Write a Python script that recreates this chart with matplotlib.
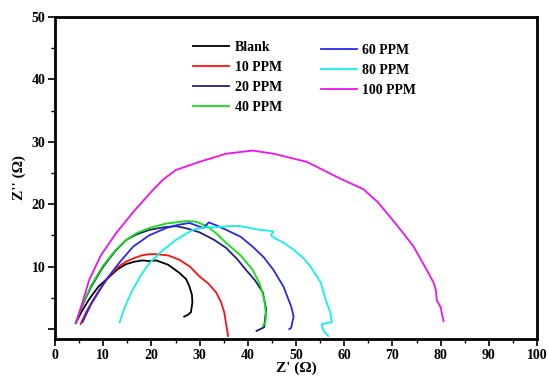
import numpy as np
import matplotlib
matplotlib.use("Agg")
import matplotlib.pyplot as plt
from matplotlib.ticker import MultipleLocator

plt.rcParams['font.family'] = ['Liberation Serif', 'DejaVu Serif']
plt.rcParams['font.weight'] = 'bold'

# Nyquist curves: Z' and Z'' in ohm
blank_x = [4.4, 5.5, 7.1, 9.0, 11.3, 13.0, 14.7, 16.5, 18.1, 19.5, 21.0, 23.5, 25.8, 27.2, 27.9, 28.4, 28.5, 28.2, 27.6, 26.8]
blank_y = [1.1, 2.8, 4.8, 6.8, 8.4, 9.6, 10.4, 10.8, 11.0, 10.9, 11.0, 10.3, 9.0, 8.0, 6.8, 5.5, 4.3, 2.7, 2.3, 2.0]

ppm10_x = [5.3, 6.5, 8.0, 9.2, 11.5, 13.0, 14.7, 16.5, 18.0, 19.5, 21.0, 23.5, 25.8, 28.0, 30.0, 31.8, 33.4, 34.4, 35.1, 35.5, 35.9]
ppm10_y = [0.8, 2.8, 4.8, 6.3, 8.7, 9.9, 10.8, 11.4, 11.8, 12.0, 12.0, 11.8, 11.1, 10.0, 8.4, 7.3, 5.9, 4.4, 2.7, 0.8, -1.1]

ppm20_x = [4.3, 5.5, 7.5, 10.0, 12.5, 14.8, 17.0, 19.6, 22.5, 25.1, 27.5, 30.0, 33.0, 35.5, 37.8, 39.6, 41.5, 43.1, 43.8, 43.4, 42.6, 41.8]
ppm20_y = [1.0, 3.5, 6.8, 10.0, 12.5, 14.3, 15.2, 15.9, 16.3, 16.5, 16.1, 15.5, 14.3, 13.0, 11.2, 9.5, 7.8, 5.9, 3.2, 0.3, 0.0, -0.3]

ppm40_x = [4.2, 5.5, 7.5, 10.0, 12.5, 14.8, 17.0, 19.6, 23.0, 27.2, 29.3, 31.5, 33.5, 35.5, 38.5, 41.0, 42.5, 43.4, 43.8, 43.6, 43.1]
ppm40_y = [0.9, 3.6, 7.0, 10.2, 12.6, 14.3, 15.4, 16.2, 16.9, 17.3, 17.2, 16.5, 15.3, 13.8, 11.8, 9.5, 7.2, 4.8, 2.1, 1.0, 0.5]

ppm60_x = [5.7, 7.5, 10.6, 13.5, 16.2, 19.5, 23.1, 25.5, 27.9, 30.0, 30.8, 31.9, 33.5, 35.5, 38.5, 41.0, 43.3, 45.3, 47.4, 49.0, 49.5, 49.2, 49.0, 48.6]
ppm60_y = [1.1, 4.0, 7.9, 10.8, 13.2, 15.0, 16.2, 16.7, 17.0, 16.4, 16.2, 17.1, 16.6, 15.9, 14.8, 13.2, 11.5, 9.5, 6.8, 3.6, 2.0, 1.0, 0.2, 0.0]

ppm80_x = [13.4, 14.5, 16.1, 17.8, 19.6, 22.3, 25.1, 28.6, 31.0, 33.4, 36.0, 38.3, 40.5, 42.4, 44.0, 45.3, 44.8, 45.3, 47.5, 49.5, 51.5, 53.0, 55.1, 56.1, 57.1, 57.4, 55.3, 55.7, 56.7]
ppm80_y = [1.1, 3.6, 6.3, 8.6, 10.6, 12.6, 14.3, 15.9, 16.3, 16.3, 16.5, 16.5, 16.2, 15.9, 15.8, 15.6, 15.0, 14.7, 13.8, 12.7, 11.4, 10.0, 7.5, 4.8, 2.7, 1.1, 0.8, -0.3, -1.1]

ppm100_x = [4.4, 5.5, 7.1, 9.5, 12.7, 16.5, 20.2, 22.5, 25.1, 30.0, 35.5, 41.0, 45.3, 52.2, 59.2, 64.0, 67.0, 69.6, 72.0, 74.4, 77.1, 78.5, 79.0, 79.2, 80.0, 80.2, 80.6]
ppm100_y = [1.0, 3.8, 7.9, 11.8, 15.4, 19.0, 22.2, 24.0, 25.5, 26.8, 28.1, 28.6, 28.1, 26.8, 24.1, 22.4, 20.3, 17.9, 15.6, 13.2, 9.5, 7.5, 6.3, 4.6, 3.5, 2.7, 1.3]

labels1 = ['Blank', '10 PPM', '20 PPM', '40 PPM']
labels2 = ['60 PPM', '80 PPM', '100 PPM']

fig = plt.figure(figsize=(5.48, 3.78), dpi=100)
ax = fig.add_axes([0.1004, 0.103, 0.8796, 0.852])

lw = 1.3
h1 = []
h1 += ax.plot(blank_x, blank_y, color='black', lw=lw)
h1 += ax.plot(ppm10_x, ppm10_y, color='#ff1010', lw=lw)
h1 += ax.plot(ppm20_x, ppm20_y, color='#202080', lw=lw)
h1 += ax.plot(ppm40_x, ppm40_y, color='#10e010', lw=lw)
h2 = []
h2 += ax.plot(ppm60_x, ppm60_y, color='#2828f0', lw=lw)
h2 += ax.plot(ppm80_x, ppm80_y, color='#10f0f0', lw=lw)
h2 += ax.plot(ppm100_x, ppm100_y, color='#f010f0', lw=lw)

ax.set_xlim(0, 100)
ax.set_ylim(-1.6, 50)
ax.xaxis.set_major_locator(MultipleLocator(10))
ax.xaxis.set_minor_locator(MultipleLocator(5))
ax.yaxis.set_major_locator(MultipleLocator(10))
ax.yaxis.set_minor_locator(MultipleLocator(5))
ax.set_yticks([0, 10, 20, 30, 40, 50])
ax.set_yticklabels(['', '10', '20', '30', '40', '50'])

for s in ax.spines.values():
    s.set_linewidth(2)
ax.tick_params(which='major', direction='out', length=5, width=1.2, labelsize=10, pad=2)
ax.tick_params(which='minor', direction='out', length=3, width=1)
for t in ax.get_xticklabels() + ax.get_yticklabels():
    t.set_fontweight('bold')

ax.set_xlabel("Z' (\u03a9)", fontsize=11, fontweight='bold', labelpad=0)
ax.set_ylabel("Z'' (\u03a9)", fontsize=11, fontweight='bold', labelpad=4)

leg1 = ax.legend(h1, labels1, loc='upper left', bbox_to_anchor=(0.26, 0.965),
                 frameon=False, prop={'weight': 'bold', 'size': 10},
                 handlelength=2.6, labelspacing=0.5, handletextpad=0.4)
ax.add_artist(leg1)
ax.legend(h2, labels2, loc='upper left', bbox_to_anchor=(0.525, 0.955),
          frameon=False, prop={'weight': 'bold', 'size': 10},
          handlelength=2.6, labelspacing=0.5, handletextpad=0.4)

fig.savefig('out.png', dpi=100)
